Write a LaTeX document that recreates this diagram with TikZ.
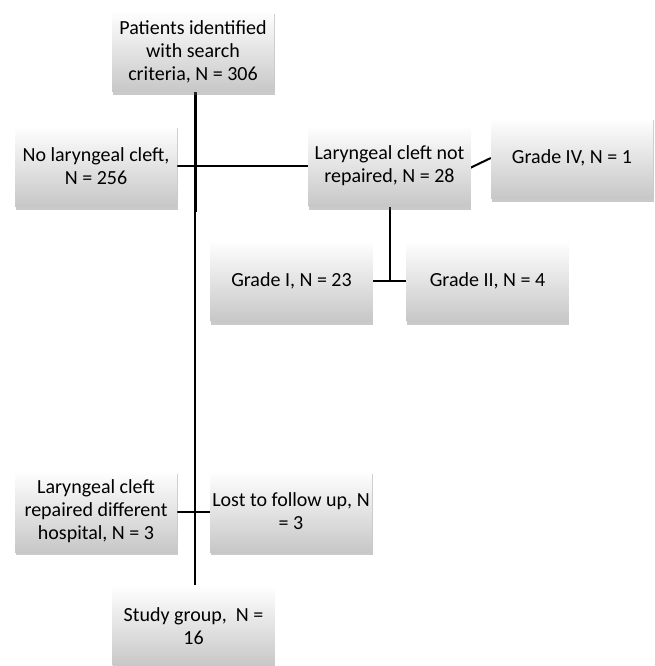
\documentclass[tikz,border=0pt]{standalone}
\usepackage{fontspec}
\setmainfont{Carlito}
\usetikzlibrary{shadows,backgrounds}
\tikzset{
  flowbox/.style={minimum width=162pt, minimum height=81pt, inner sep=2pt,
    align=center, top color=white, bottom color=black!22,
    drop shadow={shadow xshift=0.5pt, shadow yshift=-3pt, opacity=0.35, fill=black!60},
    font=\fontsize{20}{23}\selectfont},
  conn/.style={line width=2pt, black},
  thickconn/.style={line width=3pt, black},
}
\begin{document}
\begin{tikzpicture}[x=1pt,y=-1pt]
\useasboundingbox (0,0) rectangle (654,666);
\node[flowbox] (top) at (193,51.5) {Patients identified\\with search\\criteria, N = 306};
\node[flowbox] (no) at (96,166) {No laryngeal cleft,\\N = 256};
\node[flowbox] (notrep) at (389.5,166) {Laryngeal cleft not\\repaired, N = 28};
\node[flowbox] (g4) at (572,158) {Grade IV, N = 1};
\node[flowbox] (g1) at (291.5,281) {Grade I, N = 23};
\node[flowbox] (g2) at (487.5,281) {Grade II, N = 4};
\node[flowbox] (rep) at (96,511.5) {Laryngeal cleft\\repaired different\\hospital, N = 3};
\node[flowbox] (lost) at (291,511.5) {Lost to follow up, N\\= 3};
\node[flowbox] (study) at (193.5,626) {Study group,\ \ N =\\16};
\coordinate (mid) at (195,212);
\coordinate (gj) at (389.5,281);
\begin{scope}[on background layer]
\draw[thickconn] (top.south -| mid) -- (mid);
\draw[conn] (mid) -- (study.north -| mid);
\draw[conn] (no.east) -- (notrep.west);
\draw[conn] (g4.west) -- (notrep.south);
\draw[conn] (notrep.south) -- (gj);
\draw[conn] (g1.east) -- (g2.west);
\draw[conn] (rep.east) -- (lost.west);
\end{scope}
\end{tikzpicture}
\end{document}
